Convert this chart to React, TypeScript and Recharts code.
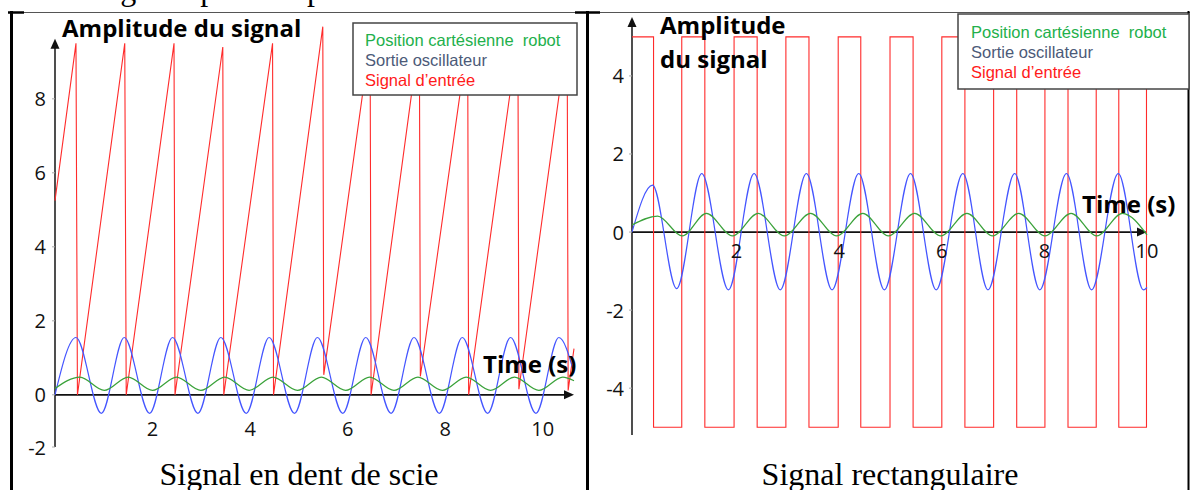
import React from 'react';
import { LineChart, Line, XAxis, YAxis, ReferenceLine } from 'recharts';

// ---- Signal en dent de scie (left panel) ----
const SAW_TIME = [0, 0.43, 0.46, 1.43, 1.46, 2.44, 2.46, 3.44, 3.46, 4.46, 4.48, 5.49, 5.51, 6.46, 6.48, 7.47, 7.49, 8.46, 8.48, 9.49, 9.51, 10.5, 10.52, 10.64];
const SAW_INPUT = [5.25, 9.5, 0, 9.5, 0, 9.5, 0, 9.4, 0, 9.5, 0, 9.95, 0.54, 9.6, 0, 9.7, 0.5, 9.6, 0, 9.7, 0.15, 9.7, 0.12, 1.25];

const SAW_OSC_TIME = [0, 0.43, 0.95, 1.42, 1.94, 2.41, 2.93, 3.4, 3.92, 4.39, 4.91, 5.38, 5.9, 6.37, 6.89, 7.36, 7.88, 8.35, 8.87, 9.34, 9.86, 10.33, 10.64];
const SAW_OSC = [0, 1.55, -0.5, 1.55, -0.5, 1.55, -0.5, 1.55, -0.5, 1.55, -0.5, 1.55, -0.5, 1.55, -0.5, 1.55, -0.5, 1.55, -0.5, 1.55, -0.5, 1.55, 0.6];

const SAW_POS_TIME = [0, 0.51, 1.01, 1.5, 2.0, 2.49, 2.99, 3.48, 3.98, 4.47, 4.97, 5.46, 5.96, 6.45, 6.95, 7.44, 7.94, 8.43, 8.93, 9.42, 9.92, 10.41, 10.64];
const SAW_POS = [0.17, 0.48, 0.12, 0.48, 0.12, 0.48, 0.12, 0.48, 0.12, 0.48, 0.12, 0.48, 0.12, 0.48, 0.12, 0.48, 0.12, 0.48, 0.12, 0.48, 0.12, 0.48, 0.38];

// ---- Signal rectangulaire (right panel) ----
const RECT_TIME = [0, 0.42, 0.42, 0.97, 0.97, 1.42, 1.42, 1.99, 1.99, 2.44, 2.44, 3.0, 3.0, 3.45, 3.45, 4.02, 4.02, 4.46, 4.46, 5.03, 5.03, 5.48, 5.48, 6.04, 6.04, 6.49, 6.49, 7.05, 7.05, 7.5, 7.5, 8.05, 8.05, 8.5, 8.5, 9.05, 9.05, 9.49, 9.49, 10.03, 10.03];
const RECT_INPUT = [5, 5, -5, -5, 5, 5, -5, -5, 5, 5, -5, -5, 5, 5, -5, -5, 5, 5, -5, -5, 5, 5, -5, -5, 5, 5, -5, -5, 5, 5, -5, -5, 5, 5, -5, -5, 5, 5, -5, -5, 5];

const RECT_OSC_TIME = [0, 0.4, 0.87, 1.36, 1.88, 2.38, 2.89, 3.4, 3.9, 4.42, 4.92, 5.43, 5.93, 6.45, 6.94, 7.46, 7.95, 8.47, 8.96, 9.48, 9.97, 10.04];
const RECT_OSC = [0, 1.2, -1.45, 1.5, -1.48, 1.5, -1.48, 1.5, -1.48, 1.5, -1.48, 1.5, -1.48, 1.5, -1.48, 1.5, -1.48, 1.5, -1.48, 1.5, -1.48, -1.42];

const RECT_POS_TIME = [0, 0.5, 0.98, 1.45, 1.96, 2.46, 2.97, 3.48, 3.99, 4.5, 5.0, 5.51, 6.02, 6.53, 7.03, 7.54, 8.05, 8.56, 9.06, 9.56, 10.04];
const RECT_POS = [0.18, 0.41, -0.1, 0.48, -0.1, 0.48, -0.1, 0.48, -0.1, 0.48, -0.1, 0.48, -0.1, 0.48, -0.1, 0.48, -0.1, 0.48, -0.1, 0.48, -0.07];

const X_TICKS = [2, 4, 6, 8, 10];
const SAW_Y_TICKS = [-1.41, 0, 2, 4, 6, 8];
const RECT_Y_TICKS = [-4, -2, 0, 2, 4];

const LEGEND_LABELS = ['Position cart\u00e9sienne\u00a0 robot', 'Sortie oscillateur', 'Signal d\u2019entr\u00e9e'];
const LEGEND_COLORS = ['#22b04b', '#4c5a78', '#ff1a1a'];

const POS_COLOR = '#3aa23a';
const OSC_COLOR = '#4455ff';
const INPUT_COLOR = '#ff2b2b';

const toPoints = (t: number[], v: number[]) => t.map((x, i) => ({ t: x, v: v[i] }));

const sawInput = toPoints(SAW_TIME, SAW_INPUT);
const sawOsc = toPoints(SAW_OSC_TIME, SAW_OSC);
const sawPos = toPoints(SAW_POS_TIME, SAW_POS);
const rectInput = toPoints(RECT_TIME, RECT_INPUT);
const rectOsc = toPoints(RECT_OSC_TIME, RECT_OSC);
const rectPos = toPoints(RECT_POS_TIME, RECT_POS);

const NUM_FONT = "'Open Sans', sans-serif";
const SERIF = "'Liberation Serif', 'Times New Roman', serif";

// axis line with a filled arrow head at its far end
const AxisArrow = (p: any) => {
  const { x1, y1, x2, y2 } = p;
  if (Math.abs(x1 - x2) < 1) {
    const top = Math.min(y1, y2);
    const bottom = Math.max(y1, y2);
    return (
      <g>
        <line x1={x1} y1={bottom} x2={x1} y2={top + 6} stroke="#222" strokeWidth={1.6} />
        <polygon points={`${x1},${top} ${x1 - 4.5},${top + 10} ${x1 + 4.5},${top + 10}`} fill="#111" />
      </g>
    );
  }
  const left = Math.min(x1, x2);
  const right = Math.max(x1, x2);
  return (
    <g>
      <line x1={left} y1={y1} x2={right - 6} y2={y1} stroke="#111" strokeWidth={1.8} />
      <polygon points={`${right},${y1} ${right - 10},${y1 - 4.5} ${right - 10},${y1 + 4.5}`} fill="#111" />
    </g>
  );
};

// time labels sit above the bottom of the plot, just under the zero line
const makeTimeTick = (dy: number, dx: number) => (props: any) => {
  const { x, y, payload } = props;
  return (
    <text x={x + dx} y={y + dy} textAnchor="middle" dominantBaseline="central" fontFamily={NUM_FONT} fontSize={20} fill="#111">
      {payload.value}
    </text>
  );
};

const makeValueTick = (fmt: (v: number) => string) => (props: any) => {
  const { x, y, payload } = props;
  return (
    <text x={x} y={y} textAnchor="end" dominantBaseline="central" fontFamily={NUM_FONT} fontSize={20} fill="#111">
      {fmt(payload.value)}
    </text>
  );
};

function LegendBox({ x, y, w, h, tx, ty }: { x: number; y: number; w: number; h: number; tx: number; ty: number }) {
  return (
    <g>
      <rect x={x} y={y} width={w} height={h} fill="#fff" stroke="#444" strokeWidth={1.5} />
      {LEGEND_LABELS.map((label, i) => (
        <text key={label} x={tx} y={ty + i * 20} fill={LEGEND_COLORS[i]} fontFamily="'Liberation Sans', Arial, sans-serif" fontSize={16.5}>
          {label}
        </text>
      ))}
    </g>
  );
}

export default function App() {
  return (
    <div style={{ position: 'absolute', left: 0, top: 0, width: 1190, height: 490, overflow: 'hidden', background: '#fff' }}>
      <div style={{ position: 'absolute', left: 0, top: 0 }}>
        <LineChart width={590} height={480} margin={{ top: 20, right: 16, bottom: 3, left: 15 }}>
          <XAxis
            dataKey="t"
            type="number"
            domain={[0, 10.64]}
            ticks={X_TICKS}
            interval={0}
            axisLine={false}
            tickLine={false}
            tickSize={0}
            tickMargin={0}
            height={30}
            tick={makeTimeTick(-19, 0)}
          />
          <YAxis
            type="number"
            domain={[-1.41, 10.13]}
            ticks={SAW_Y_TICKS}
            interval={0}
            width={40}
            axisLine={false}
            tickSize={3}
            tickMargin={6}
            tickLine={{ stroke: '#aaa' }}
            tick={makeValueTick((v) => (v < -1 ? '-2' : String(v)))}
          />
          <ReferenceLine segment={[{ x: 0, y: -1.41 }, { x: 0, y: 9.62 }]} shape={AxisArrow} />
          <ReferenceLine y={0} shape={AxisArrow} />
          <Line data={sawInput} dataKey="v" type="linear" stroke={INPUT_COLOR} strokeWidth={1.1} dot={false} isAnimationActive={false} />
          <Line data={sawOsc} dataKey="v" type="monotone" stroke={OSC_COLOR} strokeWidth={1.2} dot={false} isAnimationActive={false} />
          <Line data={sawPos} dataKey="v" type="monotone" stroke={POS_COLOR} strokeWidth={1.2} dot={false} isAnimationActive={false} />
        </LineChart>
      </div>

      <div style={{ position: 'absolute', left: 580, top: 0 }}>
        <LineChart width={590} height={480} margin={{ top: 17, right: 23, bottom: 15, left: 12 }}>
          <XAxis
            dataKey="t"
            type="number"
            domain={[0, 10.04]}
            ticks={X_TICKS}
            interval={0}
            axisLine={false}
            tickLine={false}
            tickSize={0}
            tickMargin={0}
            height={30}
            tick={makeTimeTick(-185, 2)}
          />
          <YAxis
            type="number"
            domain={[-5.2, 5.51]}
            ticks={RECT_Y_TICKS}
            interval={0}
            width={40}
            axisLine={false}
            tickSize={3}
            tickMargin={5}
            tickLine={{ stroke: '#aaa' }}
            tick={makeValueTick((v) => String(v))}
          />
          <ReferenceLine segment={[{ x: 0, y: -5.2 }, { x: 0, y: 5.51 }]} shape={AxisArrow} />
          <ReferenceLine y={0} shape={AxisArrow} />
          <Line data={rectInput} dataKey="v" type="linear" stroke={INPUT_COLOR} strokeWidth={1.1} dot={false} isAnimationActive={false} />
          <Line data={rectOsc} dataKey="v" type="monotone" stroke={OSC_COLOR} strokeWidth={1.2} dot={false} isAnimationActive={false} />
          <Line data={rectPos} dataKey="v" type="monotone" stroke={POS_COLOR} strokeWidth={1.2} dot={false} isAnimationActive={false} />
        </LineChart>
      </div>

      <svg width={1190} height={490} style={{ position: 'absolute', left: 0, top: 0, pointerEvents: 'none' }}>
        {/* only the descenders of the document line above the table show */}
        <text x={-173} y={0} fontFamily={SERIF} fontSize={32} fill="#000">
          Réponse du robot au signal : pour un premier
        </text>

        {/* table borders */}
        <line x1={10} y1={12.5} x2={1190} y2={12.5} stroke="#555" strokeWidth={1.2} />
        <line x1={8} y1={12.5} x2={24} y2={12.5} stroke="#000" strokeWidth={2.5} />
        <line x1={575} y1={12.5} x2={600} y2={12.5} stroke="#000" strokeWidth={2.5} />
        <line x1={11.5} y1={11} x2={11.5} y2={490} stroke="#000" strokeWidth={3} />
        <line x1={587.5} y1={11} x2={587.5} y2={490} stroke="#000" strokeWidth={3} />
        <line x1={1188.5} y1={11} x2={1188.5} y2={490} stroke="#000" strokeWidth={2} />

        {/* axis titles */}
        <text x={62} y={37} fontFamily={NUM_FONT} fontWeight={700} fontSize={24} fill="#000">Amplitude du signal</text>
        <text x={483} y={373} fontFamily={NUM_FONT} fontWeight={700} fontSize={24} fill="#000">Time (s)</text>
        <text x={660} y={34} fontFamily={NUM_FONT} fontWeight={700} fontSize={24} fill="#000">Amplitude</text>
        <text x={660} y={68} fontFamily={NUM_FONT} fontWeight={700} fontSize={24} fill="#000">du signal</text>
        <text x={1082} y={213} fontFamily={NUM_FONT} fontWeight={700} fontSize={24} fill="#000">Time (s)</text>

        {/* legends */}
        <LegendBox x={353} y={23} w={224} h={72} tx={365} ty={46} />
        <LegendBox x={958} y={14} w={231} h={75} tx={971} ty={38} />

        {/* captions */}
        <text x={299} y={485} textAnchor="middle" fontFamily={SERIF} fontSize={32} fill="#000">
          Signal en dent de scie
        </text>
        <text x={890} y={485} textAnchor="middle" fontFamily={SERIF} fontSize={32} fill="#000">
          Signal rectangulaire
        </text>
      </svg>
    </div>
  );
}
